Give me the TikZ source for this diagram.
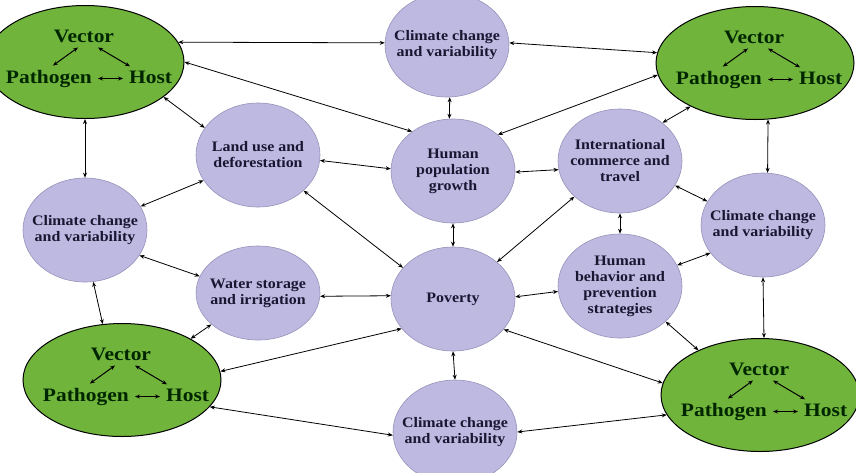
\documentclass[tikz,border=0pt]{standalone}
\usepackage{fontspec}
\setmainfont{Liberation Serif}
\newfontfamily\lblfont[FakeStretch=1.1]{Liberation Serif}
\newfontfamily\vphfont[FakeStretch=1.13]{Liberation Serif}
\usetikzlibrary{shapes.geometric,arrows.meta,calc}
\definecolor{lav}{RGB}{189,185,224}
\definecolor{lavline}{RGB}{150,146,185}
\definecolor{vphgreen}{RGB}{112,180,60}
\definecolor{lbltext}{RGB}{25,22,50}

\newcommand\vphcluster[2]{%
  \node[vph] (#1) at (#2) {};
  \node[vphtxt, anchor=base] (#1-v) at ($(#1)+(-1,-20)$) {Vector};
  \node[vphtxt, anchor=base east] (#1-p) at ($(#1)+(8,21)$) {Pathogen};
  \node[vphtxt, anchor=base west] (#1-h) at ($(#1)+(43,21)$) {Host};
  \draw[inarr] ([xshift=-6pt,yshift=-4pt]#1-v.south) -- ([xshift=4pt,yshift=3pt]#1-p.north);
  \draw[inarr] ([xshift=14pt,yshift=-4pt]#1-v.south) -- ([xshift=2pt,yshift=3pt]#1-h.north west);
  \draw[inarr, shorten <=5pt, shorten >=5pt] ([yshift=4.5pt]#1-p.base east) -- ([yshift=4.5pt]#1-h.base west);
}

\begin{document}
\begin{tikzpicture}[x=1pt, y=-1pt,
  lav/.style={ellipse, draw=lavline, line width=0.6pt, fill=lav, minimum width=124pt, minimum height=104pt,
    inner xsep=-20pt, inner ysep=-8pt, align=center, text=lbltext, font=\lblfont\bfseries\fontsize{14.5}{16}\selectfont},
  vph/.style={ellipse, draw=black, line width=1pt, fill=vphgreen, minimum width=198pt, minimum height=113pt},
  vphtxt/.style={inner sep=1pt, text=black!85!green, font=\vphfont\bfseries\fontsize{19}{22}\selectfont},
  arr/.style={{Stealth[length=5pt,width=4pt]}-{Stealth[length=5pt,width=4pt]}, line width=0.8pt},
  inarr/.style={arr, line width=1pt}]
  \useasboundingbox (0,0) rectangle (856,472);

  \vphcluster{tl}{85,62}
  \vphcluster{tr}{755,63}
  \vphcluster{bl}{122,380}
  \vphcluster{br}{760,395}

  \node[lav] (ctop) at (447,45) {Climate change\\and variability};
  \node[lav] (landuse) at (258,155) {Land use and\\deforestation};
  \node[lav] (popg) at (453,171) {Human\\population\\growth};
  \node[lav] (commerce) at (620,161) {International\\commerce and\\travel};
  \node[lav] (cleft) at (85,230) {Climate change\\and variability};
  \node[lav] (cright) at (763,225) {Climate change\\and variability};
  \node[lav, minimum height=94pt] (water) at (258,293) {Water storage\\and irrigation};
  \node[lav] (poverty) at (453,299) {Poverty};
  \node[lav] (behavior) at (620,286) {Human\\behavior and\\prevention\\strategies};
  \node[lav] (cbot) at (455,432) {Climate change\\and variability};

  \draw[arr] (tl.12) -- (ctop.178);
  \draw[arr] (ctop.2) -- (tr.174);
  \draw[arr] (tl.0) -- (popg.136);
  \draw[arr] (tl.-24) -- (landuse.153);
  \draw[arr] (tl.south) -- (cleft.north);
  \draw[arr] (ctop.-87) -- (popg.94);
  \draw[arr] (tr.187) -- (popg.39);
  \draw[arr] (tr.214) -- (commerce.42);
  \draw[arr] (tr.-77) -- (cright.85);
  \draw[arr] (landuse.-5) -- (popg.178);
  \draw[arr] (popg.-1) -- (commerce.188);
  \draw[arr] (landuse.205) -- (cleft.23);
  \draw[arr] (landuse.-38) -- (poverty.148);
  \draw[arr] (popg.south) -- (poverty.north);
  \draw[arr] (commerce.218) -- (poverty.40);
  \draw[arr] (commerce.south) -- (behavior.north);
  \draw[arr] (commerce.-24) -- (cright.157);
  \draw[arr] (cleft.-25) -- (water.164);
  \draw[arr] (water.-3) -- (poverty.177);
  \draw[arr] (poverty.2) -- (behavior.185);
  \draw[arr] (behavior.20) -- (cright.208);
  \draw[arr] (cleft.-81) -- (bl.109);
  \draw[arr] (water.214) -- (bl.31);
  \draw[arr] (bl.5) -- (poverty.210);
  \draw[arr] (bl.-17) -- (cbot.183);
  \draw[arr] (poverty.-31) -- (br.173);
  \draw[arr] (behavior.-38) -- (br.144);
  \draw[arr] (cright.south) -- (br.86);
  \draw[arr] (cbot.0) -- (br.192);
  \draw[arr] (poverty.south) -- (cbot.north);
\end{tikzpicture}
\end{document}
